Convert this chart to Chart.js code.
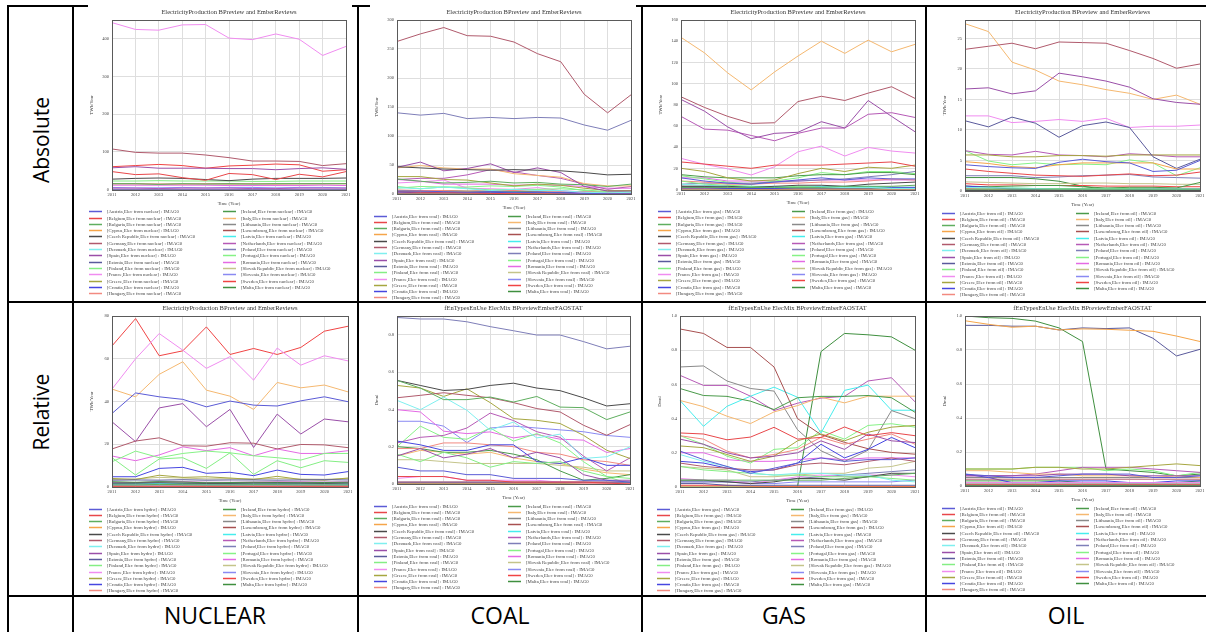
<!DOCTYPE html>
<html>
<head>
<meta charset="utf-8">
<script src="https://cdn.jsdelivr.net/npm/chart.js@4.4.1/dist/chart.umd.min.js"></script>
<style>
  html, body { margin: 0; padding: 0; background: #fff; }
  #page { position: relative; width: 1206px; height: 632px; overflow: hidden; background: #fff; }
  .ln { position: absolute; background: #000; }
  .cover { position: absolute; background: #fff; }
  .lab { position: absolute; font-family: 'Open Sans', sans-serif; font-size: 21px; color: #000;
         white-space: nowrap; transform: translate(-50%, -50%); }
  .big { font-size: 23px; }
  .rot { transform: translate(-50%, -50%) rotate(-90deg); }
  canvas { position: absolute; }
</style>
</head>
<body>
<div id="page"></div>
<script>
const years = ['2011', '2012', '2013', '2014', '2015', '2016', '2017', '2018', '2019', '2020', '2021'];
const countries = ['Austria', 'Belgium', 'Bulgaria', 'Cyprus', 'Czech Republic', 'Germany', 'Denmark', 'Spain',
  'Estonia', 'Finland', 'France', 'Greece', 'Croatia', 'Hungary', 'Ireland', 'Italy', 'Lithuania', 'Luxembourg',
  'Latvia', 'Netherlands', 'Poland', 'Portugal', 'Romania', 'Slovak Republic', 'Slovenia', 'Sweden', 'Malta'];

// absolute production, TWh/Year
const nuclearTWh = [
  [0,0,0,0,0,0,0,0,0,0,0],
  [48,40,42,32,25,43,40,27,41,34,48],
  [16,16,14,16,15,16,15,16,16,16,16],
  [0,0,0,0,0,0,0,0,0,0,0],
  [28,30,31,30,27,24,28,30,30,30,31],
  [108,99,97,97,92,85,76,76,75,64,69],
  [0,0,0,0,0,0,0,0,0,0,0],
  [58,61,57,57,57,56,56,53,56,58,54],
  [0,0,0,0,0,0,0,0,0,0,0],
  [23,23,24,23,23,23,22,22,23,23,23],
  [443,425,423,437,438,402,398,413,399,356,380],
  [0,0,0,0,0,0,0,0,0,0,0],
  [0,0,0,0,0,0,0,0,0,0,0],
  [16,16,15,15,16,16,16,15,16,16,16],
  [0,0,0,0,0,0,0,0,0,0,0],
  [0,0,0,0,0,0,0,0,0,0,0],
  [0,0,0,0,0,0,0,0,0,0,0],
  [0,0,0,0,0,0,0,0,0,0,0],
  [0,0,0,0,0,0,0,0,0,0,0],
  [4,4,3,4,4,4,3,3,4,4,4],
  [0,0,0,0,0,0,0,0,0,0,0],
  [0,0,0,0,0,0,0,0,0,0,0],
  [12,12,12,12,12,11,11,11,11,12,11],
  [15,15,15,15,15,14,15,15,15,15,16],
  [6,5,5,6,5,6,6,5,6,6,5],
  [61,64,67,64,57,63,65,68,66,49,53],
  [0,0,0,0,0,0,0,0,0,0,0]
];
const coalTWh = [
  [5,5,4,3,4,3,3,2,1,0.5,0.3],
  [4,3,3,2,1,0.5,0,0,0,0,0],
  [26,22,19,20,22,19,20,17,16,13,17],
  [0,0,0,0,0,0,0,0,0,0,0],
  [47,45,43,42,41,42,41,40,37,33,34],
  [263,276,287,273,272,262,242,228,172,140,171],
  [11,9,12,9,6,8,6,6,3,2,3],
  [46,55,40,44,52,37,45,37,13,5,5],
  [1,1,1,1,1,1,1,1,0.5,0.5,0.5],
  [13,9,12,10,7,8,8,9,7,4,4],
  [19,21,24,10,9,8,11,6,2,1,1],
  [30,30,25,24,19,14,17,15,10,6,6],
  [2,3,2,2,3,2,3,2,2,1,1],
  [7,6,6,5,6,6,5,5,4,3,3],
  [5,6,6,5,5,5,4,2,1,0.5,1.5],
  [45,49,45,43,43,35,32,29,18,14,14],
  [0,0,0,0,0,0,0,0,0,0,0],
  [0,0,0,0,0,0,0,0,0,0,0],
  [0,0,0,0,0,0,0,0,0,0,0],
  [25,27,27,33,42,38,32,27,17,8,13],
  [140,136,139,130,132,130,132,131,119,110,127],
  [10,13,12,12,14,13,15,12,6,2,0],
  [25,22,17,17,17,15,16,15,13,10,10],
  [4,4,4,4,3,3,3,3,2,2,2],
  [5,5,5,4,4,4,4,4,4,3,3],
  [1,1,1,1,1,1,1,1,0.5,0.5,0.5],
  [0,0,0,0,0,0,0,0,0,0,0]
];
const gasTWh = [
  [11,8,6,5,7,9,11,9,11,10,10],
  [26,24,22,20,23,23,23,24,25,26,22],
  [2,2,2,2,2,2,2,3,3,3,4],
  [0,0,0,0,0,0,0,0,0,0,0],
  [3,3,3,2,3,4,4,3,5,6,7],
  [87.5,77.5,69,62.4,63,83,88,84,91,97,86],
  [5,4,3,2,2,2,2,2,2,1,1],
  [85,74,59,48,53,54,64,58,84,69,54.5],
  [0.3,0.3,0.2,0.2,0.1,0.1,0.1,0.1,0.1,0.1,0.1],
  [8,5,4,3,2,3,2,2,2,1,1],
  [29.4,23.8,19.5,13.7,21.5,35.6,41,31.6,39.7,36.3,34.4],
  [20,17,11,8,9,15,20,17,21,20,23],
  [2,2,1,1,1,2,2,2,2,2,2],
  [8,7,5,5,6,6,7,7,8,10,9],
  [14,12,11,11,11,13,14,14,16,16,14],
  [143.6,129,110,94,111,126,140,128.5,141,130,137],
  [3,2,1,1,1,1,1,1,1,1,1],
  [3,3,1,0.5,0.3,0.3,0.3,0.3,0.3,0.2,0.2],
  [3,3,3,3,3,2,3,3,3,2,2],
  [69,57,56,51,46,53,58,58,71,72.5,68],
  [5,6,6,6,7,8,9,10,12,14,17],
  [13,10,7,5,8,11,16,14,17,17,15],
  [11,11,8,8,8,8,9,9,9,9,9],
  [3,2,2,1,1,2,2,2,2,2,2],
  [0.5,0.5,0.5,0.3,0.3,0.4,0.5,0.5,0.5,0.6,0.6],
  [1,1,1,0.5,0.3,0.5,0.5,0.5,0.5,0.4,0.4],
  [0,0,0,0,0,0.5,1.5,1.5,1.5,1.6,1.6]
];
const oilTWh = [
  [4.3,4,3.8,3.7,4.7,5.2,4.8,4.6,3.2,3.4,5],
  [3.6,3.2,2.9,2.6,2.5,2.4,2.6,2.8,2.5,2.6,3.1],
  [0.3,0.3,0.3,0.3,0.3,0.3,0.3,0.3,0.3,0.3,0.3],
  [4.8,4.5,4,3.8,4.3,4.6,4.6,4.6,4.6,3.6,3.6],
  [0.1,0.1,0.1,0.1,0.1,0.1,0.1,0.1,0.1,0.1,0.1],
  [23.2,23.7,24.2,23.3,24.4,24.3,24.2,23,21.7,20.1,20.8],
  [0.6,0.5,0.5,0.4,0.3,0.3,0.3,0.3,0.3,0.3,0.3],
  [16.7,16.9,15.9,16.4,19.3,18.7,18,17,15.1,14.5,14.2],
  [11.5,10.5,12.1,11.1,8.8,10.7,11.3,10.4,5.6,3.7,5.2],
  [0.6,0.5,0.5,0.4,0.4,0.4,0.4,0.4,0.3,0.3,0.3],
  [12.3,12.3,11.2,11.4,11.7,11.4,11.9,10.4,10.6,10.6,10.8],
  [5.9,5.9,5.6,5.6,5.8,5.8,5.7,5.9,5.9,5.9,5.9],
  [0.8,0.6,0.3,0.3,0.4,0.4,0.4,0.3,0.3,0.3,0.3],
  [0.4,0.3,0.2,0.2,0.2,0.2,0.2,0.2,0.2,0.2,0.2],
  [0.8,0.7,0.8,0.9,0.9,0.7,0.5,0.6,0.6,0.5,1.4],
  [27.4,26.1,21.1,19.8,18,17.4,16.6,16,15,15.7,14.2],
  [0.3,0.3,0.3,0.3,0.3,0.3,0.3,0.3,0.3,0.3,0.3],
  [0,0,0,0,0,0,0,0,0,0,0],
  [0.1,0.1,0.1,0.1,0.1,0.1,0.1,0.1,0.1,0.1,0.1],
  [6.6,6,5.9,6.5,5.9,5.8,5.6,6.1,5.9,5.6,5.6],
  [2.5,2.5,2.5,2.2,2.3,2.5,2.6,2.7,2.3,2.2,2.1],
  [6.6,4.9,4.3,4.6,4.3,4.4,4.3,5.1,4.6,2.5,3.8],
  [0.8,0.6,0.4,0.4,0.3,0.3,0.3,0.3,0.2,0.2,0.2],
  [1.5,1.4,1.3,1.2,1.2,1.3,1.3,1.2,1.2,1.1,1.1],
  [0.1,0.1,0.1,0.1,0.1,0.1,0.1,0.1,0.1,0.1,0.1],
  [1.2,1,1,0.9,0.9,0.9,0.8,0.8,0.8,0.7,0.7],
  [2.2,2.2,2.2,2,1.6,0.8,0.2,0.2,0.2,0.2,0.2]
];

// relative values
const hydroShare = [
  [34.4,44,42.2,41,37.5,40.2,38.3,37.9,40.3,42.2,39.9],
  [0.3,0.3,0.3,0.3,0.3,0.3,0.3,0.3,0.3,0.3,0.3],
  [1,1,1.2,1.1,1,1,1.1,1.1,1,1,1],
  [0,0,0,0,0,0,0,0,0,0,0],
  [1.8,1.8,2,1.8,1.7,1.7,1.8,1.8,1.8,1.7,1.8],
  [17.8,21.5,23,19.3,19.1,20.7,20.5,17.8,19.9,19.7,18.4],
  [0.1,0.1,0.1,0.1,0.1,0.1,0.1,0.1,0.1,0.1,0.1],
  [30.5,21.2,37,39,28.2,36.3,18.5,34.1,24.8,31.8,30.5],
  [3.2,3.3,3.2,3.4,3.2,3.3,3.3,3.2,3.3,3.4,3.3],
  [13.7,5.6,13.1,13.7,8.7,16,5.9,12.3,9,12.3,11.5],
  [45.8,60,71.8,64,55.5,61,50,65,57,61.4,59],
  [4,3.5,5.5,4.5,4.8,4.2,3.5,5,3.5,3.2,4.2],
  [4.8,4.8,8.7,9.2,6.4,6.9,5.3,7.9,5.9,5.6,7.2],
  [0.2,0.2,0.2,0.2,0.2,0.2,0.2,0.2,0.2,0.2,0.2],
  [2.5,2.2,2.5,2.3,2,2.1,2.2,2.1,2,2.1,2.2],
  [45.8,42.2,52.7,58.6,45.3,42.5,36.3,48.9,46.4,47.7,44.5],
  [0.4,0.4,0.4,0.4,0.4,0.4,0.4,0.4,0.4,0.4,0.4],
  [0.2,0.2,0.2,0.2,0.2,0.2,0.2,0.2,0.2,0.2,0.2],
  [1.5,1.5,1.6,1.5,1.4,1.5,1.4,1.5,1.5,1.5,1.4],
  [2,2,2.5,2.5,2.2,2.2,2.3,2.4,2.4,2.3,2.4],
  [0.5,0.5,0.5,0.5,0.5,0.5,0.5,0.5,0.5,0.5,0.5],
  [11.8,16.8,13.7,15.7,16.8,16,14.6,13.7,12.6,15.7,15.7],
  [14.5,12.3,15,18.8,17,18.4,14.6,17.8,15.7,15.7,17],
  [3.5,3.8,4.5,4.2,3.8,3.9,3.8,4,3.7,3.6,4],
  [1.2,1.3,1.4,1.3,1.2,1.2,1.3,1.2,1.3,1.3,1.2],
  [66,78.8,61.4,63.7,74.9,62,64.8,62,65.3,72.9,75.2],
  [0,0,0,0,0,0,0,0,0,0,0]
];
const coalShare = [
  [0.09,0.07,0.07,0.05,0.05,0.03,0.03,0.03,0.02,0.02,0.01],
  [0.04,0.04,0.04,0.02,0.02,0.01,0.01,0.01,0.01,0.005,0],
  [0.555,0.514,0.452,0.452,0.466,0.439,0.469,0.412,0.409,0.345,0.386],
  [0,0,0,0,0,0,0,0,0,0,0],
  [0.555,0.528,0.501,0.507,0.528,0.54,0.514,0.5,0.462,0.418,0.43],
  [0.462,0.475,0.489,0.475,0.462,0.436,0.404,0.386,0.315,0.261,0.318],
  [0.448,0.398,0.466,0.395,0.288,0.332,0.247,0.267,0.137,0.146,0.199],
  [0.15,0.19,0.14,0.16,0.19,0.14,0.17,0.14,0.05,0.02,0.02],
  [0.01,0.01,0.01,0.01,0.01,0.01,0.01,0.01,0.01,0.01,0.01],
  [0.16,0.12,0.17,0.14,0.09,0.12,0.11,0.12,0.07,0.04,0.03],
  [0.03,0.04,0.04,0.02,0.02,0.02,0.02,0.01,0.003,0.003,0.003],
  [0.528,0.514,0.469,0.51,0.436,0.35,0.341,0.324,0.261,0.181,0.137],
  [0.23,0.21,0.18,0.18,0.21,0.21,0.12,0.11,0.14,0.1,0.1],
  [0.19,0.19,0.22,0.22,0.21,0.2,0.17,0.16,0.13,0.12,0.1],
  [0.2,0.19,0.17,0.17,0.18,0.16,0.13,0.07,0.02,0.03,0.05],
  [0.15,0.18,0.17,0.16,0.17,0.14,0.12,0.11,0.08,0.06,0.05],
  [0,0,0,0,0,0,0,0,0,0,0],
  [0,0,0,0,0,0,0,0,0,0,0],
  [0,0,0,0,0,0,0,0,0,0,0],
  [0.22,0.25,0.26,0.3,0.38,0.34,0.28,0.25,0.15,0.07,0.14],
  [0.892,0.884,0.884,0.869,0.843,0.821,0.798,0.798,0.763,0.724,0.738],
  [0.2,0.31,0.25,0.24,0.3,0.23,0.27,0.22,0.12,0.04,0],
  [0.398,0.386,0.283,0.27,0.279,0.247,0.265,0.24,0.235,0.169,0.19],
  [0.13,0.13,0.12,0.11,0.11,0.11,0.11,0.1,0.09,0.07,0.07],
  [0.336,0.336,0.31,0.222,0.3,0.31,0.3,0.29,0.28,0.26,0.25],
  [0.01,0.01,0.01,0.01,0.01,0.01,0.01,0.01,0.01,0.01,0.01],
  [0,0,0,0,0,0,0,0,0,0,0]
];
const gasShare = [
  [0.21,0.16,0.12,0.08,0.11,0.14,0.17,0.15,0.16,0.16,0.17],
  [0.316,0.31,0.276,0.292,0.349,0.28,0.29,0.351,0.3,0.318,0.3],
  [0.04,0.04,0.04,0.04,0.04,0.04,0.04,0.05,0.06,0.07,0.08],
  [0,0,0,0,0,0,0,0,0,0,0],
  [0.04,0.04,0.03,0.02,0.03,0.05,0.05,0.04,0.06,0.08,0.08],
  [0.14,0.12,0.11,0.1,0.1,0.13,0.14,0.13,0.15,0.17,0.15],
  [0.19,0.15,0.12,0.08,0.07,0.08,0.08,0.07,0.07,0.04,0.03],
  [0.28,0.25,0.2,0.17,0.18,0.2,0.27,0.22,0.31,0.27,0.26],
  [0.02,0.02,0.01,0.01,0.01,0.01,0.01,0.01,0.01,0.01,0.01],
  [0.12,0.1,0.09,0.08,0.07,0.07,0.06,0.06,0.06,0.05,0.04],
  [0.05,0.04,0.04,0.02,0.04,0.06,0.07,0.06,0.07,0.07,0.06],
  [0.24,0.23,0.19,0.15,0.18,0.27,0.31,0.27,0.32,0.35,0.36],
  [0.15,0.14,0.11,0.09,0.1,0.14,0.25,0.17,0.22,0.29,0.23],
  [0.3,0.28,0.21,0.17,0.19,0.22,0.29,0.25,0.28,0.31,0.25],
  [0.576,0.535,0.53,0.502,0.453,0.522,0.53,0.53,0.535,0.522,0.437],
  [0.506,0.47,0.414,0.371,0.439,0.476,0.525,0.492,0.531,0.531,0.531],
  [0.702,0.708,0.62,0.576,0.561,0.335,0.212,0.149,0.215,0.447,0.4],
  [0.924,0.898,0.816,0.816,0.702,0.4,0.306,0.261,0.224,0.202,0.192],
  [0.506,0.355,0.472,0.531,0.584,0.525,0.316,0.565,0.596,0.449,0.449],
  [0.653,0.594,0.594,0.531,0.447,0.49,0.52,0.53,0.62,0.639,0.498],
  [0.03,0.03,0.03,0.03,0.04,0.05,0.06,0.07,0.08,0.09,0.1],
  [0.3,0.25,0.18,0.14,0.22,0.23,0.33,0.28,0.36,0.37,0.35],
  [0.2,0.2,0.16,0.15,0.15,0.16,0.17,0.16,0.17,0.17,0.17],
  [0.12,0.11,0.1,0.06,0.06,0.07,0.08,0.08,0.11,0.12,0.15],
  [0.03,0.03,0.03,0.02,0.02,0.03,0.03,0.03,0.03,0.03,0.04],
  [0.01,0.01,0.01,0.005,0.003,0.003,0.003,0.003,0.003,0.003,0.003],
  [0,0,0,0,0,0,0.792,0.898,0.89,0.878,0.8]
];
const oilShare = [
  [0.07,0.06,0.05,0.05,0.06,0.07,0.07,0.07,0.05,0.05,0.06],
  [0.01,0.01,0.01,0.01,0.01,0.01,0.01,0.01,0.01,0.01,0.01],
  [0.005,0.005,0.005,0.005,0.005,0.005,0.005,0.005,0.005,0.005,0.005],
  [0.972,0.951,0.934,0.94,0.918,0.924,0.922,0.916,0.91,0.882,0.85],
  [0.002,0.002,0.002,0.002,0.002,0.002,0.002,0.002,0.002,0.002,0.002],
  [0.04,0.04,0.04,0.04,0.04,0.04,0.04,0.04,0.04,0.04,0.04],
  [0.01,0.01,0.01,0.01,0.01,0.01,0.01,0.01,0.01,0.01,0.01],
  [0.06,0.06,0.06,0.06,0.07,0.07,0.07,0.06,0.06,0.06,0.06],
  [0.945,0.945,0.94,0.94,0.918,0.93,0.926,0.93,0.869,0.765,0.804],
  [0.01,0.01,0.01,0.01,0.01,0.01,0.01,0.01,0.01,0.01,0.01],
  [0.02,0.02,0.02,0.02,0.02,0.02,0.02,0.02,0.02,0.02,0.02],
  [0.1,0.1,0.1,0.11,0.11,0.1,0.1,0.11,0.12,0.13,0.12],
  [0.07,0.05,0.02,0.02,0.03,0.03,0.03,0.02,0.02,0.03,0.03],
  [0.02,0.02,0.02,0.02,0.02,0.02,0.02,0.02,0.02,0.02,0.02],
  [0.03,0.03,0.03,0.03,0.03,0.02,0.02,0.02,0.02,0.02,0.03],
  [0.09,0.09,0.08,0.07,0.07,0.06,0.06,0.06,0.05,0.06,0.05],
  [0.05,0.05,0.05,0.05,0.05,0.05,0.05,0.05,0.05,0.05,0.05],
  [0,0,0,0,0,0,0,0,0,0,0],
  [0.01,0.01,0.01,0.01,0.01,0.01,0.01,0.01,0.01,0.01,0.01],
  [0.06,0.06,0.06,0.07,0.09,0.11,0.11,0.11,0.1,0.09,0.08],
  [0.01,0.01,0.01,0.01,0.01,0.01,0.01,0.01,0.01,0.01,0.01],
  [0.1,0.1,0.1,0.11,0.11,0.11,0.09,0.1,0.09,0.06,0.08],
  [0.01,0.01,0.01,0.01,0.01,0.01,0.01,0.01,0.01,0.01,0.01],
  [0.02,0.02,0.02,0.02,0.02,0.02,0.02,0.02,0.02,0.02,0.02],
  [0.003,0.003,0.003,0.003,0.003,0.003,0.003,0.003,0.003,0.003,0.003],
  [0.01,0.01,0.01,0.01,0.01,0.01,0.01,0.01,0.01,0.01,0.01],
  [1,0.99,0.986,0.97,0.93,0.85,0.1,0.09,0.08,0.06,0.07]
];

const palette = ['#5b5bd6', '#e8474a', '#5fae5f', '#f5a54a', '#4a4a4a', '#b05a6c', '#7fefef', '#9a4fa8',
  '#5a5a9c', '#84ee84', '#f08cf0', '#a6a640', '#4646e0', '#f28a80', '#4a9a4a', '#f5b870', '#8a8a8a',
  '#a85050', '#46eded', '#b65ab6', '#7e7eb8', '#86f286', '#e46ae4', '#c4c48a', '#8a8af2', '#f04444', '#3f8f3f'];

const page = document.getElementById('page');
const SERIF = "'Liberation Serif', 'Times New Roman', serif";
Chart.defaults.font.family = SERIF;
Chart.defaults.color = '#444';

// plot frame around the chart area
const frame = {
  id: 'frame',
  afterDatasetsDraw(chart) {
    const a = chart.chartArea, ctx = chart.ctx;
    ctx.save();
    ctx.strokeStyle = '#5a5a5a';
    ctx.lineWidth = 1;
    ctx.strokeRect(Math.round(a.left) + 0.5, Math.round(a.top) + 0.5,
      Math.round(a.right - a.left), Math.round(a.bottom - a.top));
    ctx.restore();
  }
};

// two-column legend below the axis, filled column by column
const colLegend = {
  id: 'colLegend',
  afterDraw(chart, args, opts) {
    const ctx = chart.ctx, a = chart.chartArea;
    ctx.save();
    ctx.font = opts.size + 'px ' + SERIF;
    ctx.textBaseline = 'middle';
    chart.data.datasets.forEach((ds, i) => {
      const col = Math.floor(i / opts.rows), row = i % opts.rows;
      const x = a.left + opts.cols[col];
      const y = Math.round(a.bottom + opts.top + row * opts.step) + 0.5;
      ctx.strokeStyle = ds.borderColor;
      ctx.lineWidth = 1.5;
      ctx.beginPath();
      ctx.moveTo(x, y);
      ctx.lineTo(x + 13, y);
      ctx.stroke();
      ctx.fillStyle = '#444';
      ctx.fillText(ds.label, x + 18, y);
    });
    ctx.restore();
  }
};

function addPanel(p) {
  const [pl, pt, pr, pb] = p.plot;
  const left = pl - 26, right = pr + 10;
  const cv = document.createElement('canvas');
  cv.width = right - left;
  cv.height = p.bottom - p.top;
  cv.style.left = left + 'px';
  cv.style.top = p.top + 'px';
  page.appendChild(cv);

  const axisH = 16;
  new Chart(cv, {
    type: 'line',
    data: {
      labels: years,
      datasets: countries.map((c, i) => ({
        label: '[' + c + ',Elec from ' + p.kind + '] : IMAG0',
        data: p.values[i],
        borderColor: palette[i],
        borderWidth: 1,
        pointRadius: 0,
        fill: false,
        tension: 0
      }))
    },
    options: {
      responsive: false,
      animation: false,
      events: [],
      layout: { padding: { left: 0, top: 0, right: 10, bottom: p.bottom - axisH - pb } },
      plugins: {
        legend: { display: false },
        tooltip: { enabled: false },
        title: {
          display: true,
          fullSize: false,
          text: p.title,
          color: '#333',
          font: { size: 6.5, weight: 'normal', lineHeight: 1 },
          padding: { top: pt - 8 - 3.25 - p.top, bottom: 4.75 }
        },
        colLegend: { rows: 14, cols: [-23, 111], top: 21.5, step: 6.3, size: 4.8 }
      },
      scales: {
        x: {
          type: 'category',
          offset: false,
          grid: { color: '#dedede', drawTicks: false, offset: false },
          border: { display: false },
          ticks: { autoSkip: false, maxRotation: 0, padding: 2, font: { size: 4.5 } },
          title: { display: true, text: 'Time (Year)', font: { size: 4.7, lineHeight: 1 }, padding: 0 },
          afterFit: s => { s.height = axisH; s.paddingLeft = 0; s.paddingRight = 0; }
        },
        y: {
          min: 0,
          max: p.max,
          grid: { color: '#dedede', drawTicks: false },
          border: { display: false },
          ticks: { stepSize: p.step, includeBounds: false, padding: 3, font: { size: 4.5 } },
          title: { display: true, text: p.yTitle, font: { size: 4.7, lineHeight: 1 }, padding: { top: 3.6, bottom: 0 } },
          afterFit: s => { s.width = 26; s.paddingTop = 0; s.paddingBottom = 0; }
        }
      }
    },
    plugins: [frame, colLegend]
  });
}

// table lines
function line(x, y, w, h) {
  const d = document.createElement('div');
  d.className = 'ln';
  Object.assign(d.style, { left: x + 'px', top: y + 'px', width: w + 'px', height: h + 'px' });
  page.appendChild(d);
}
function label(text, x, y, cls) {
  const d = document.createElement('div');
  d.className = 'lab ' + cls;
  d.textContent = text;
  Object.assign(d.style, { left: x + 'px', top: y + 'px' });
  page.appendChild(d);
}

line(7, 5, 1200, 2);
line(7, 301, 1200, 2);
line(7, 595, 1200, 2);
line(7, 5, 2, 630);
line(72, 5, 2, 630);
line(357, 5, 2, 630);
line(641, 5, 2, 630);
line(925, 5, 2, 630);

// chart images hide part of the top rule
[[88, 352], [370, 636]].forEach(([a, b]) => {
  const d = document.createElement('div');
  d.className = 'cover';
  Object.assign(d.style, { left: a + 'px', top: '4px', width: (b - a) + 'px', height: '4px' });
  page.appendChild(d);
});

label('Absolute', 41, 140, 'rot');
label('Relative', 41, 412, 'rot');
label('NUCLEAR', 215, 615, 'big');
label('COAL', 500, 615, 'big');
label('GAS', 784, 615, 'big');
label('OIL', 1066, 615, 'big');

const T1 = 'ElectricityProduction BPreview and EmberReviews';
const T2 = 'fEnTypesEnUse ElecMix BPreviewEmberFAOSTAT';

addPanel({ kind: 'nuclear', values: nuclearTWh, title: T1, yTitle: 'TWh/Year', max: 450, step: 100,
  top: 8, bottom: 300, plot: [112, 20, 346, 189.7] });
addPanel({ kind: 'coal', values: coalTWh, title: T1, yTitle: 'TWh/Year', max: 300, step: 50,
  top: 8, bottom: 300, plot: [397, 20, 631, 194] });
addPanel({ kind: 'gas', values: gasTWh, title: T1, yTitle: 'TWh/Year', max: 160, step: 20,
  top: 8, bottom: 300, plot: [681, 20, 915, 189.5] });
addPanel({ kind: 'oil', values: oilTWh, title: T1, yTitle: 'TWh/Year', max: 28, step: 5,
  top: 8, bottom: 300, plot: [965, 20, 1200, 191] });

addPanel({ kind: 'hydro', values: hydroShare, title: T1, yTitle: 'TWh/Year', max: 80, step: 20,
  top: 303, bottom: 595, plot: [112, 316, 348, 487] });
addPanel({ kind: 'coal', values: coalShare, title: T2, yTitle: 'Dmnl', max: 0.9, step: 0.2,
  top: 303, bottom: 595, plot: [397, 316, 630, 484] });
addPanel({ kind: 'gas', values: gasShare, title: T2, yTitle: 'Dmnl', max: 1, step: 0.2,
  top: 303, bottom: 595, plot: [680, 316, 915, 487] });
addPanel({ kind: 'oil', values: oilShare, title: T2, yTitle: 'Dmnl', max: 1, step: 0.2,
  top: 303, bottom: 595, plot: [965, 316, 1200, 486] });
</script>
</body>
</html>
